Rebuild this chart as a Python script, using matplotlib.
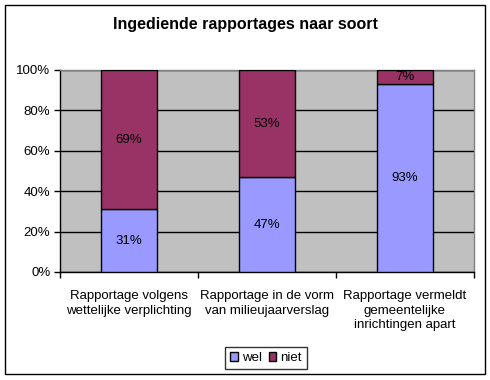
import matplotlib
matplotlib.use("Agg")
import matplotlib.pyplot as plt
from matplotlib.patches import Rectangle
from matplotlib.ticker import FixedLocator

categories = [
    "Rapportage volgens\nwettelijke verplichting",
    "Rapportage in de vorm\nvan milieujaarverslag",
    "Rapportage vermeldt\ngemeentelijke\ninrichtingen apart",
]
wel = [31, 47, 93]
niet = [69, 53, 7]
yticks = [0, 20, 40, 60, 80, 100]

plt.rcParams["font.family"] = ["Liberation Sans", "DejaVu Sans"]

fig = plt.figure(figsize=(4.9, 3.8), dpi=100)
fig.patches.append(Rectangle((5 / 490, 6 / 380), 480 / 490, 369 / 380,
                             transform=fig.transFigure, fill=False,
                             edgecolor="black", linewidth=1))

ax = fig.add_axes([60 / 490, 108 / 380, 414 / 490, 202 / 380])
ax.set_facecolor("#C0C0C0")
for side in ["top", "right"]:
    ax.spines[side].set_color("#808080")
ax.spines["left"].set_color("black")
ax.spines["bottom"].set_color("black")
for sp in ax.spines.values():
    sp.set_linewidth(1)

x = range(len(categories))
ax.bar(x, wel, width=0.4, color="#9999FF", edgecolor="black", linewidth=1,
       label="wel", zorder=3)
ax.bar(x, niet, width=0.4, bottom=wel, color="#993366", edgecolor="black",
       linewidth=1, label="niet", zorder=3)

for i in x:
    ax.text(i, wel[i] / 2, f"{wel[i]}%", ha="center", va="center",
            fontsize=9.5, zorder=4)
    ax.text(i, wel[i] + niet[i] / 2, f"{niet[i]}%", ha="center",
            va="center", fontsize=9.5, zorder=4)

ax.set_xlim(-0.5, 2.5)
ax.set_ylim(0, 100)
ax.set_yticks(yticks)
ax.set_yticklabels([f"{t}%" for t in yticks], fontsize=9.5)
ax.yaxis.grid(True, color="black", linewidth=1, zorder=1)
ax.set_axisbelow(True)
ax.tick_params(axis="y", direction="out", length=4, width=1, pad=3)

ax.set_xticks(list(x))
ax.set_xticklabels(categories, fontsize=9.5, linespacing=1.3)
ax.tick_params(axis="x", length=0, pad=13)
ax.xaxis.set_minor_locator(FixedLocator([-0.5, 0.5, 1.5, 2.5]))
ax.tick_params(axis="x", which="minor", direction="out", length=4, width=1)

fig.text(0.5, 1 - 25 / 380, "Ingediende rapportages naar soort",
         ha="center", va="center", fontsize=11.5, fontweight="bold")

leg = fig.legend(loc="center", bbox_to_anchor=(266 / 490, 1 - 358 / 380),
                 ncol=2, fontsize=9.5, frameon=True, fancybox=False,
                 handlelength=0.6, handleheight=0.6, handletextpad=0.3,
                 columnspacing=0.5, borderpad=0.35, borderaxespad=0)
leg.get_frame().set_edgecolor("black")
leg.get_frame().set_linewidth(1)

fig.savefig("out.png", dpi=100, facecolor="white")
